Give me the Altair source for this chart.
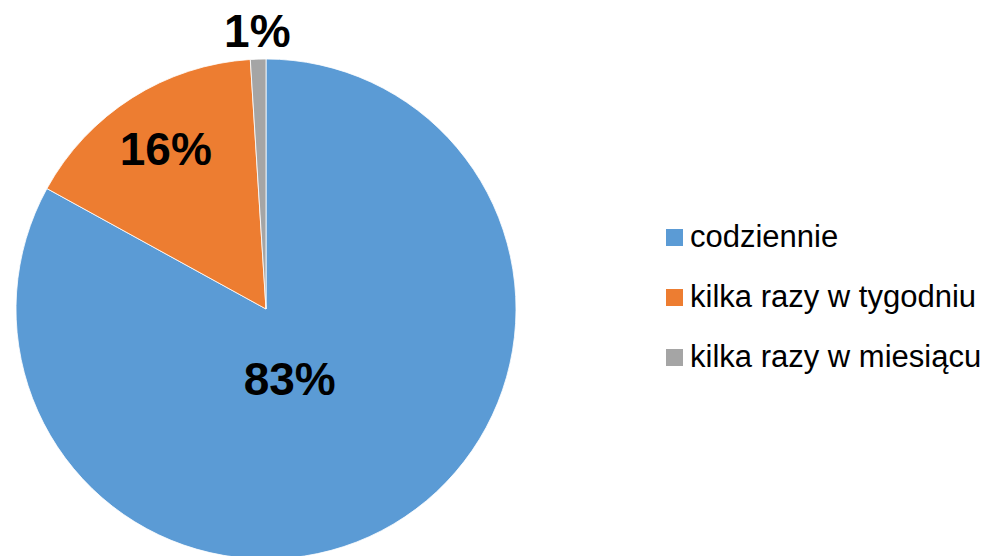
import altair as alt
import pandas as pd

categories = ["codziennie", "kilka razy w tygodniu", "kilka razy w miesiącu"]
values = [83, 16, 1]
labels = ["83%", "16%", "1%"]
colors = ["#5B9BD5", "#ED7D31", "#A5A5A5"]

df = pd.DataFrame({
    "kategoria": categories,
    "wartosc": values,
    "etykieta": labels,
    "kolejnosc": list(range(len(categories))),
})

CX, CY = 258, 301
R = 250

base = alt.Chart(df).encode(
    theta=alt.Theta("wartosc:Q", stack=True),
    order=alt.Order("kolejnosc:Q"),
)

arcs = base.mark_arc(outerRadius=R, stroke="white", strokeWidth=0.8).encode(
    x=alt.value(CX),
    y=alt.value(CY),
    color=alt.Color(
        "kategoria:N",
        scale=alt.Scale(domain=categories, range=colors),
        sort=categories,
        legend=alt.Legend(
            title=None,
            orient="none",
            legendX=651,
            legendY=214,
            symbolType="square",
            symbolSize=289,
            symbolStrokeWidth=0,
            labelFont="Liberation Sans",
            labelFontSize=31,
            labelColor="#000000",
            labelOffset=0,
            rowPadding=28,
            labelLimit=400,
        ),
    ),
)

def label_layer(cat, radius, dx=0, dy=0):
    return base.mark_text(
        radius=radius,
        dx=dx,
        dy=dy,
        font="Liberation Sans",
        fontSize=46,
        fontWeight="bold",
        color="#000000",
        align="center",
        baseline="middle",
    ).encode(
        x=alt.value(CX),
        y=alt.value(CY),
        text="etykieta:N",
        opacity=alt.condition(alt.datum.kategoria == cat, alt.value(1), alt.value(0)),
    )

text_layers = [
    label_layer(categories[0], 76, dx=-15, dy=7),
    label_layer(categories[1], 187),
    label_layer(categories[2], 276),
]

chart = alt.layer(arcs, *text_layers).properties(
    width=981,
    height=548,
    padding=0,
    autosize=alt.AutoSizeParams(type="none"),
).configure_view(stroke=None)

chart.save("out.html", embed_options={"renderer": "svg", "actions": False})
